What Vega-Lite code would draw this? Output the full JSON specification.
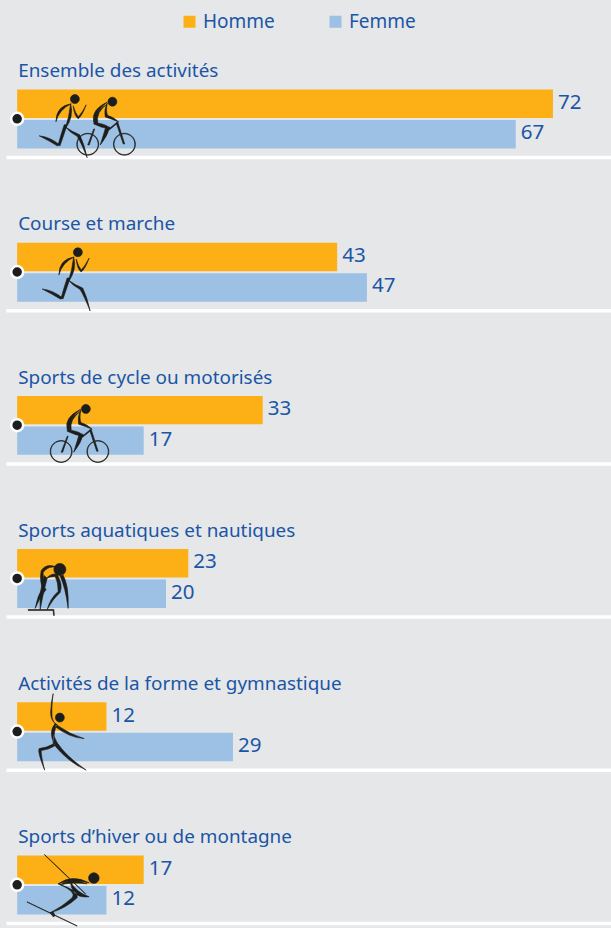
{"$schema":"https://vega.github.io/schema/vega-lite/v6.json","background":"#e5e7e9","padding":{"left":6,"top":12,"right":0,"bottom":0},"autosize":{"type":"pad"},"data":{"values":[{"a":"Ensemble des activités","s":"Homme","v":72},{"a":"Ensemble des activités","s":"Femme","v":67},{"a":"Course et marche","s":"Homme","v":43},{"a":"Course et marche","s":"Femme","v":47},{"a":"Sports de cycle ou motorisés","s":"Homme","v":33},{"a":"Sports de cycle ou motorisés","s":"Femme","v":17},{"a":"Sports aquatiques et nautiques","s":"Homme","v":23},{"a":"Sports aquatiques et nautiques","s":"Femme","v":20},{"a":"Activités de la forme et gymnastique","s":"Homme","v":12},{"a":"Activités de la forme et gymnastique","s":"Femme","v":29},{"a":"Sports d’hiver ou de montagne","s":"Homme","v":17},{"a":"Sports d’hiver ou de montagne","s":"Femme","v":12}]},"facet":{"row":{"field":"a","type":"nominal","sort":["Ensemble des activités","Course et marche","Sports de cycle ou motorisés","Sports aquatiques et nautiques","Activités de la forme et gymnastique","Sports d’hiver ou de montagne"],"header":null}},"spacing":50.2,"resolve":{"axis":{"x":"independent"}},"spec":{"width":605,"height":98,"view":{"stroke":null},"encoding":{"x":{"field":"v","type":"quantitative","stack":null,"scale":{"domain":[-1.5,79.8],"nice":false,"zero":false},"axis":{"title":null,"labels":false,"ticks":false,"grid":false,"domain":true,"domainColor":"#ffffff","domainWidth":3.5}},"y":{"field":"s","type":"nominal","title":null,"axis":null,"scale":{"domain":["title","Homme","Femme"],"paddingInner":0.067,"paddingOuter":0.14,"align":0}}},"layer":[{"mark":{"type":"bar","opacity":1},"encoding":{"color":{"field":"s","type":"nominal","title":null,"scale":{"domain":["Homme","Femme"],"range":["#fdb016","#9dc1e4"]},"legend":{"orient":"none","legendX":174,"legendY":-47,"direction":"horizontal","symbolType":"square","symbolSize":144,"symbolStrokeWidth":0,"labelFontSize":19,"labelFont":"Noto Sans","labelColor":"#1b55a6","labelOffset":4,"columnPadding":51,"symbolOpacity":1}}}},{"mark":{"type":"text","align":"left","dx":5,"dy":-1,"font":"Noto Sans","fontSize":20.5,"color":"#1b55a6"},"encoding":{"text":{"field":"v","type":"quantitative"}}},{"transform":[{"filter":"datum.s==='Homme'"}],"mark":{"type":"text","align":"left","dy":-2,"dx":1,"font":"Noto Sans","fontSize":18.9,"color":"#1b55a6"},"encoding":{"x":{"datum":0},"y":{"datum":"title"},"text":{"field":"a"}}},{"transform":[{"filter":"datum.s==='Homme' && datum.a==='Ensemble des activités'"}],"mark":{"type":"point","filled":true,"opacity":1,"fill":"#1d1d1b","stroke":"#1d1d1b","strokeWidth":0.6,"size":4,"shape":"M56.2 -19.7 a4.5 4.5 0 1 0 9 0 a4.5 4.5 0 1 0 -9 0Z M41.7 3 Q42 -13 57 -15 Q45 -9.5 41.7 3Z M56.5 -15 Q60 -2 51 10 Q55 -2 56.5 -15Z M53 6 Q49 18 46 26.5 Q43 25 44.5 24 Q47 15 50 6Z M46 26.5 Q36 18 25 17 Q35 22 43 27Z M51 8 Q58 13 65.5 16 Q70 25 73 39 Q67 24 63 17.5 Q56 14 51 8Z M59 -13 Q61 -6 64 -2 Q68 -6 72 -14 Q68 -3 64 0 Q60 -3 59 -13Z"},"encoding":{"x":{"datum":-0.4},"y":{"field":"s","bandPosition":1.03}}},{"transform":[{"filter":"datum.s==='Homme' && datum.a==='Ensemble des activités'"}],"mark":{"type":"point","filled":true,"opacity":1,"fill":"#1d1d1b","stroke":"#1d1d1b","strokeWidth":0.6,"size":4,"shape":"M64.2 -16.3 a4.5 4.5 0 1 0 9 0 a4.5 4.5 0 1 0 -9 0Z M63.5 -16 Q47 -8 50 4 Q52 -7 63.5 -16Z M63.5 -14 Q52 -6 54 5 Q65 7 66 11 Q58 10 50 6 Q50 -6 63.5 -14Z M66 9 Q64 18 56.5 27 Q60 16 62 9Z M63.5 -15 Q62 -6 64 -2.5 Q70 -1 75 4 Q68 1 61.5 -1 Q60 -8 63.5 -15Z M74 4 L81 26 L79.5 26 L72.5 5Z M65 11 L73 4.5 L73.5 5.5 L65.5 12Z M44 27 L50 11 L51 11 L45.5 27Z M33 26.3 a11 11 0 1 0 22 0 a11 11 0 1 0 -22 0Z M33.6 26.3 a10.4 10.4 0 1 1 20.8 0 a10.4 10.4 0 1 1 -20.8 0Z M69.7 26.3 a11 11 0 1 0 22 0 a11 11 0 1 0 -22 0Z M70.3 26.3 a10.4 10.4 0 1 1 20.8 0 a10.4 10.4 0 1 1 -20.8 0Z"},"encoding":{"x":{"datum":3.57},"y":{"field":"s","bandPosition":1}}},{"transform":[{"filter":"datum.s==='Homme' && datum.a==='Course et marche'"}],"mark":{"type":"point","filled":true,"opacity":1,"fill":"#1d1d1b","stroke":"#1d1d1b","strokeWidth":0.6,"size":4,"shape":"M56.2 -19.7 a4.5 4.5 0 1 0 9 0 a4.5 4.5 0 1 0 -9 0Z M41.7 3 Q42 -13 57 -15 Q45 -9.5 41.7 3Z M56.5 -15 Q60 -2 51 10 Q55 -2 56.5 -15Z M53 6 Q49 18 46 26.5 Q43 25 44.5 24 Q47 15 50 6Z M46 26.5 Q36 18 25 17 Q35 22 43 27Z M51 8 Q58 13 65.5 16 Q70 25 73 39 Q67 24 63 17.5 Q56 14 51 8Z M59 -13 Q61 -6 64 -2 Q68 -6 72 -14 Q68 -3 64 0 Q60 -3 59 -13Z"},"encoding":{"x":{"datum":0},"y":{"field":"s","bandPosition":1.03}}},{"transform":[{"filter":"datum.s==='Homme' && datum.a==='Sports de cycle ou motorisés'"}],"mark":{"type":"point","filled":true,"opacity":1,"fill":"#1d1d1b","stroke":"#1d1d1b","strokeWidth":0.6,"size":4,"shape":"M64.2 -16.3 a4.5 4.5 0 1 0 9 0 a4.5 4.5 0 1 0 -9 0Z M63.5 -16 Q47 -8 50 4 Q52 -7 63.5 -16Z M63.5 -14 Q52 -6 54 5 Q65 7 66 11 Q58 10 50 6 Q50 -6 63.5 -14Z M66 9 Q64 18 56.5 27 Q60 16 62 9Z M63.5 -15 Q62 -6 64 -2.5 Q70 -1 75 4 Q68 1 61.5 -1 Q60 -8 63.5 -15Z M74 4 L81 26 L79.5 26 L72.5 5Z M65 11 L73 4.5 L73.5 5.5 L65.5 12Z M44 27 L50 11 L51 11 L45.5 27Z M33 26.3 a11 11 0 1 0 22 0 a11 11 0 1 0 -22 0Z M33.6 26.3 a10.4 10.4 0 1 1 20.8 0 a10.4 10.4 0 1 1 -20.8 0Z M69.7 26.3 a11 11 0 1 0 22 0 a11 11 0 1 0 -22 0Z M70.3 26.3 a10.4 10.4 0 1 1 20.8 0 a10.4 10.4 0 1 1 -20.8 0Z"},"encoding":{"x":{"datum":0},"y":{"field":"s","bandPosition":1.03}}},{"transform":[{"filter":"datum.s==='Homme' && datum.a==='Sports aquatiques et nautiques'"}],"mark":{"type":"point","filled":true,"opacity":1,"fill":"#1d1d1b","stroke":"#1d1d1b","strokeWidth":0.6,"size":4,"shape":"M36.7 -9 a6 6 0 1 0 12 0 a6 6 0 1 0 -12 0Z M40 -11 Q30 -16 24 -8 Q22 3 26 11 Q26 2 26 -6 Q31 -13 40 -11Z M26 8 Q20 18 18 30 Q23 18 29 11Z M27 -3 Q22 12 23 31 Q26 14 30 0Z M29 0 Q35 -6 40 -4 Q46 6 43 14 Q36 20 30 31 Q33 20 41 13 Q41 4 38 -2 Q33 -2 29 0Z M45 -5 Q52 6 51 30 Q48 8 43 -2Z M11 31 L36.7 31 L37.2 37 L36.4 37 L36 32 L11 32Z"},"encoding":{"x":{"datum":0},"y":{"field":"s","bandPosition":1.03}}},{"transform":[{"filter":"datum.s==='Homme' && datum.a==='Activités de la forme et gymnastique'"}],"mark":{"type":"point","filled":true,"opacity":1,"fill":"#1d1d1b","stroke":"#1d1d1b","strokeWidth":0.6,"size":4,"shape":"M38.2 -14 a4.5 4.5 0 1 0 9 0 a4.5 4.5 0 1 0 -9 0Z M36 -38 Q34 -22 35 -14 Q36 -9 39 -7 Q33 -12 33.5 -20 Q34 -30 36 -38Z M38 -8 Q31 0 37 12 Q36 0 40 -7Z M39 -7 Q53 3 67 7 Q52 6 38 -5Z M36 3 Q42 20 69 38.5 Q50 30 36 12Z M37 12 Q30 16 22 17 Q20 20 27.5 38.5 Q24 25 24 19 Q32 18 38 14Z"},"encoding":{"x":{"datum":0},"y":{"field":"s","bandPosition":1.03}}},{"transform":[{"filter":"datum.s==='Homme' && datum.a==='Sports d’hiver ou de montagne'"}],"mark":{"type":"point","filled":true,"opacity":1,"fill":"#1d1d1b","stroke":"#1d1d1b","strokeWidth":0.6,"size":4,"shape":"M71.4 -6.7 a5.3 5.3 0 1 0 10.6 0 a5.3 5.3 0 1 0 -10.6 0Z M72 -2 Q55 -11 41 -1 Q55 -6 72 -2Z M70 -1 Q55 -7 43 0 Q55 -3 70 -1Z M41 -1 Q60 7 55 13 Q45 22 33 28 Q48 24 60 13 Q62 6 41 -1Z M53 -3 Q60 8 72 12 Q62 13 57 8 Q54 3 53 -3Z M27.3 -30.3 L68.5 9 L68.3 9.2 L27.2 -30.1Z M10 17 L60 41 L59.8 41.3 L9.8 17.3Z M33 28 L36 32 L38 31 L36 27Z"},"encoding":{"x":{"datum":0},"y":{"field":"s","bandPosition":1.03}}},{"transform":[{"filter":"datum.s==='Homme'"}],"mark":{"type":"point","filled":true,"opacity":1,"shape":"circle"},"encoding":{"x":{"datum":0},"y":{"field":"s","bandPosition":1.03},"size":{"value":144},"fill":{"value":"#1d1d1b"},"stroke":{"value":"#ffffff"},"strokeWidth":{"value":2.5}}}]},"config":{"style":{"cell":{"stroke":null}}}}
